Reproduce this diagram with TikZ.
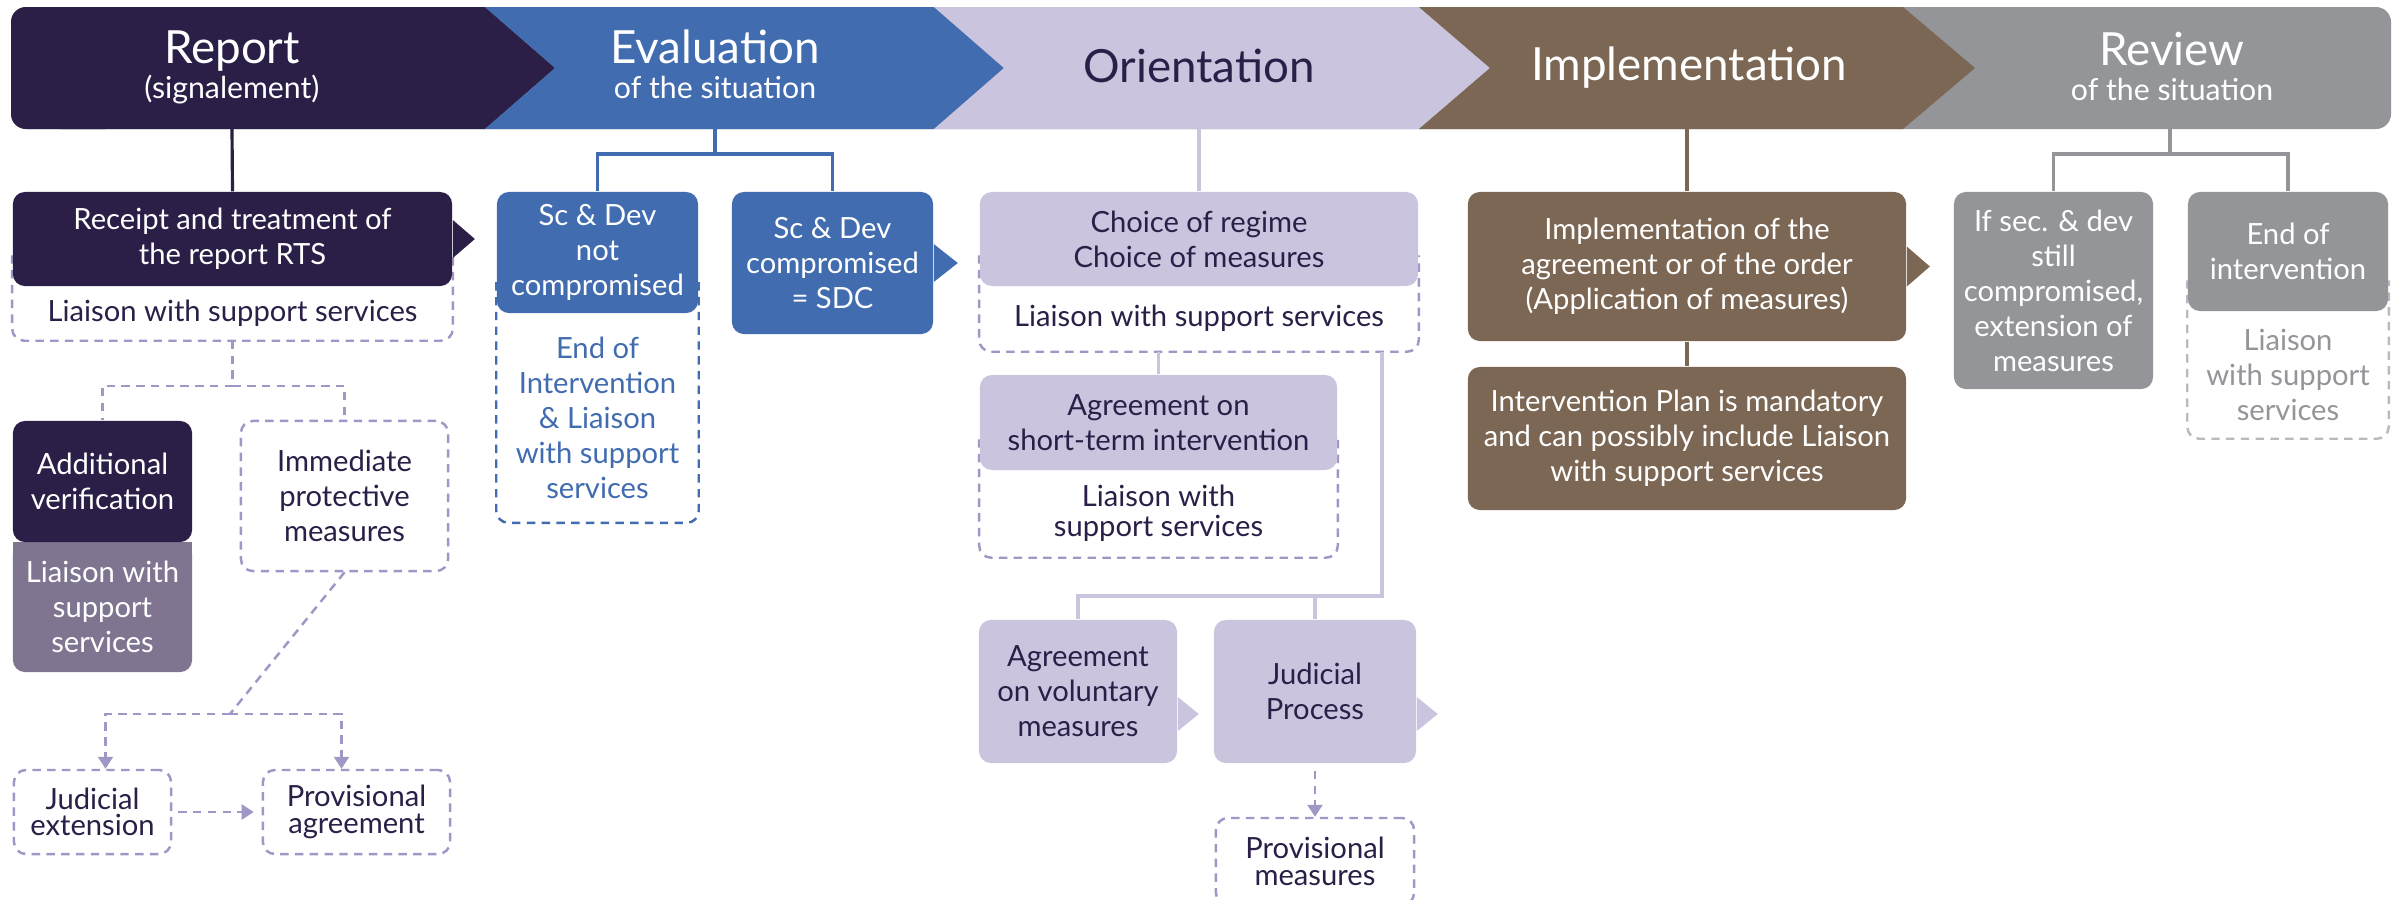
\documentclass[tikz,border=0pt]{standalone}
\usepackage{fontspec}
\setmainfont{Lato}
\usepackage{tikz}
\usetikzlibrary{arrows.meta}

\definecolor{navy}{RGB}{43,31,72}
\definecolor{evalblue}{RGB}{65,108,175}
\definecolor{lav}{RGB}{203,196,222}
\definecolor{implbrown}{RGB}{124,103,84}
\definecolor{revgrey}{RGB}{147,149,152}
\definecolor{addgrey}{RGB}{127,117,145}
\definecolor{dashlav}{RGB}{160,151,198}
\definecolor{dashgrey}{RGB}{185,186,190}

\newcommand{\boxfont}{\fontsize{8.3}{9.95}\selectfont}
\newcommand{\tightfont}{\fontsize{8.3}{7.5}\selectfont}
\newcommand{\headfont}{\fontsize{13}{15}\selectfont}
\newcommand{\subfont}{\fontsize{8.6}{9}\selectfont}

\begin{document}
\begin{tikzpicture}[x=0.01cm,y=-0.01cm,
>={Triangle[width=1.5mm,length=1.2mm]},
wh/.style 2 args={minimum width=#1*0.1mm,minimum height=#2*0.1mm},
filled/.style={rounded corners=1.2mm,inner sep=0pt,align=center,font=\boxfont},
navybox/.style={filled,fill=navy,text=white},
bluebox/.style={filled,fill=evalblue,text=white},
lavbox/.style={filled,fill=lav,text=navy},
brownbox/.style={filled,fill=implbrown,text=white},
greybox/.style={filled,fill=revgrey,text=white},
liaison/.style={inner sep=0pt,align=center,font=\boxfont,text=navy},
dashbox/.style={liaison,draw=dashlav,line width=0.7pt,dash pattern=on 2.4pt off 1.8pt,rounded corners=1.2mm},
openline/.style={draw=#1,line width=0.7pt,dash pattern=on 2.4pt off 1.8pt,rounded corners=1.2mm},
conn/.style={draw=#1,line width=0.9pt},
dashconn/.style={draw=dashlav,line width=0.7pt,dash pattern=on 2.4pt off 1.8pt},
dasharrow/.style={dashconn,->},
title/.style={font=\headfont,anchor=base,inner sep=0pt},
subtitle/.style={font=\subfont,anchor=base,inner sep=0pt}]
\fill[white] (0,0) rectangle (2402,899);
\clip (0,0) rectangle (2402,899);

\fill[revgrey,rounded corners=1.5mm] (11,7) rectangle (2391,129);
\fill[navy,rounded corners=1.5mm] (11,7) rectangle (120,129);
\fill[navy] (60,7) -- (485,7) -- (555,68) -- (485,129) -- (60,129) -- cycle;
\fill[evalblue] (485,7) -- (934,7) -- (1004,68) -- (934,129) -- (485,129) -- (555,68) -- cycle;
\fill[lav] (934,7) -- (1419,7) -- (1490,68) -- (1419,129) -- (934,129) -- (1004,68) -- cycle;
\fill[implbrown] (1419,7) -- (1903,7) -- (1975,68) -- (1903,129) -- (1419,129) -- (1490,68) -- cycle;

\coordinate (rep) at (232,129);
\coordinate (eva) at (715,129);
\coordinate (ori) at (1199,129);
\coordinate (imp) at (1687,129);
\coordinate (rev) at (2170,129);

\node (hreport) at (232,63)[title,text=white]{Report};
\node (hreportsub) at (232,98)[subtitle,text=white]{(signalement)};
\node (heval) at (715,63)[title,text=white]{Evaluation};
\node (hevalsub) at (715,98)[subtitle,text=white]{of the situation};
\node (horient) at (1199,82)[title,text=navy]{Orientation};
\node (himpl) at (1689,80)[title,text=white]{Implementation};
\node (hreview) at (2172,65)[title,text=white]{Review};
\node (hreviewsub) at (2172,100)[subtitle,text=white]{of the situation};

\node (rtsl) at (232.5,313)[liaison,wh={439}{54}]{Liaison with support services};
\draw[openline=dashlav] ([yshift=3mm]rtsl.north west) -- (rtsl.south west) -- (rtsl.south east) -- ([yshift=3mm]rtsl.north east);
\node (rts) at (232.5,239)[navybox,wh={439}{94}]{Receipt and treatment of\\the report RTS};
\fill[navy] (rts.east) ++(0,-19) -- ++(22,19) -- ++(-22,19) -- cycle;

\fill[addgrey] (13,542) rectangle (192,572);
\node (addl) at (102.5,607)[filled,fill=addgrey,text=white,wh={179}{130}]{Liaison with\\support\\services};
\node (addv) at (102.5,481.5)[navybox,wh={179}{121}]{Additional\\verification};
\node (immed) at (344.5,496)[dashbox,wh={207}{150}]{Immediate\\protective\\measures};
\node (jext) at (92.5,812)[dashbox,font=\tightfont,wh={157}{84}]{Judicial\\extension};
\node (pagr) at (356.5,812)[dashbox,font=\tightfont,wh={187}{84}]{Provisional\\agreement};

\draw[conn=navy] (rep) -- (rts.north);
\draw[dashconn] (rtsl.south) -- ++(0,45) coordinate (repfork) -| (addv.north);
\draw[dashconn] (repfork) -| (immed.north);
\coordinate (immfork) at (230,714);
\draw[dashconn] (immed.south) -- (immfork);
\draw[dasharrow] (immfork) -| ([xshift=1.3mm]jext.north);
\draw[dasharrow] (immfork) -| ([xshift=-1.5mm]pagr.north);
\draw[dasharrow,shorten <=0.6mm,shorten >=0.8mm] (jext) -- (pagr);

\node (sc1l) at (597.5,417.5)[liaison,text=evalblue,wh={201}{209}]{End of\\Intervention\\\& Liaison\\with support\\services};
\draw[openline=evalblue] ([yshift=3mm]sc1l.north west) -- (sc1l.south west) -- (sc1l.south east) -- ([yshift=3mm]sc1l.north east);
\node (sc1) at (597.5,252.5)[bluebox,wh={201}{121}]{Sc \& Dev\\not\\compromised};
\node (sc2) at (832.5,263)[bluebox,wh={201}{142}]{Sc \& Dev\\compromised\\= SDC};
\fill[evalblue] (sc2.east) ++(0,-19) -- ++(24,19) -- ++(-24,19) -- cycle;
\coordinate (evalfork) at (715,154);
\draw[conn=evalblue] (eva) -- (evalfork) -| (sc1.north);
\draw[conn=evalblue] (evalfork) -| (sc2.north);

\node (choicel) at (1199,318.5)[liaison,wh={438}{65}]{Liaison with support services};
\draw[openline=dashlav] ([yshift=3mm]choicel.north west) -- (choicel.south west) -- (choicel.south east) -- ([yshift=3mm]choicel.north east);
\node (choice) at (1199,239)[lavbox,wh={438}{94}]{Choice of regime\\Choice of measures};
\node (shortl) at (1158.5,513.5)[liaison,font=\fontsize{8.3}{8.5}\selectfont,wh={357}{87}]{Liaison with\\support services};
\draw[openline=dashlav] ([yshift=3mm]shortl.north west) -- (shortl.south west) -- (shortl.south east) -- ([yshift=3mm]shortl.north east);
\node (short) at (1158.5,422.5)[lavbox,wh={357}{95}]{Agreement on\\short-term intervention};
\node (vol) at (1078,691.5)[lavbox,wh={198}{143}]{Agreement\\on voluntary\\measures};
\fill[lav] (vol.east) ++(0,5.5) -- ++(21,17) -- ++(-21,17) -- cycle;
\node (jud) at (1315,691.5)[lavbox,wh={202}{143}]{Judicial\\Process};
\fill[lav] (jud.east) ++(0,5.5) -- ++(21,17) -- ++(-21,17) -- cycle;
\node (pmeas) at (1315,861.5)[dashbox,font=\fontsize{8.3}{7.6}\selectfont,wh={198}{87}]{Provisional\\measures};
\draw[conn=lav] (ori) -- (choice.north);
\draw[conn=lav] (choicel.south -| short.north) -- (short.north);
\coordinate (orifork) at (1382,596);
\draw[conn=lav] (choicel.south -| orifork) -- (orifork) -| (vol.north);
\draw[conn=lav] (orifork) -| (jud.north);
\draw[dasharrow] ([yshift=-0.7mm]jud.south) -- (pmeas.north);

\node (impl) at (1687,266.5)[brownbox,wh={438}{149}]{Implementation of the\\agreement or of the order\\(Application of measures)};
\fill[implbrown] (impl.east) ++(0,-20) -- ++(23,20) -- ++(-23,20) -- cycle;
\node (plan) at (1687,438.5)[brownbox,wh={438}{143}]{Intervention Plan is mandatory\\and can possibly include Liaison\\with support services};
\draw[conn=implbrown] (imp) -- (impl.north);
\draw[conn=implbrown] (impl) -- (plan);

\node (still) at (2053.5,290.5)[greybox,wh={199}{197}]{If sec. \& dev\\still\\compromised,\\extension of\\measures};
\node (endl) at (2288,374.5)[liaison,text=revgrey,wh={200}{127}]{Liaison\\with support\\services};
\draw[openline=dashgrey] ([yshift=3mm]endl.north west) -- (endl.south west) -- (endl.south east) -- ([yshift=3mm]endl.north east);
\node (endint) at (2288,251.5)[greybox,wh={200}{119}]{End of\\intervention};
\coordinate (revfork) at (2170,154);
\draw[conn=revgrey] (rev) -- (revfork) -| (still.north);
\draw[conn=revgrey] (revfork) -| (endint.north);
\end{tikzpicture}
\end{document}
